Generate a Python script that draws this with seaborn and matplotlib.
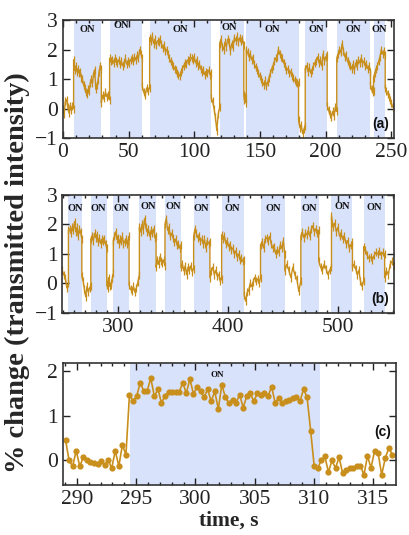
import numpy as np
import pandas as pd
import matplotlib
matplotlib.use("Agg")
import matplotlib.pyplot as plt
import seaborn as sns
from matplotlib.ticker import MultipleLocator

# --- DATA ---
# panel (a): segment edges (OFF/ON alternating, starting OFF) and values per segment
edges_a = [0, 8.1, 29.2, 35.5, 60.4, 66.0, 112.9, 119.3, 137.7, 139.6, 179.4,
           184.5, 201.2, 208.5, 234.2, 236.5, 245.4, 251]
segs_a = [
    [0.0, -0.2, 0.25, 0.3, 0.05, -0.15, 0.1, -0.05, 0.1, 0.0],
    [1.65, 1.3, 1.45, 1.25, 1.35, 1.2, 1.25, 1.05, 1.0, 0.8, 0.7, 0.55, 0.5, 0.65, 0.6,
     0.85, 1.0, 0.85, 1.2, 1.3, 0.65, 0.8, 0.95, 1.25, 1.45, 1.35],
    [0.2, 0.45, 0.35, 0.55, 0.4, 0.45, 0.3],
    [1.7, 1.6, 1.65, 1.55, 1.7, 1.6, 1.55, 1.65, 1.5, 1.6, 1.45, 1.55, 1.7, 1.5, 1.6,
     1.55, 1.65, 1.7, 1.6, 1.75, 1.65, 1.8, 1.7, 2.0, 1.85, 1.7],
    [0.75, 0.55, 0.45, 0.7, 0.6, 0.7],
    [2.4, 2.3, 2.45, 2.2, 2.35, 2.15, 2.3, 2.25, 2.35, 2.2, 2.05, 2.15, 1.95, 2.0, 1.85,
     1.7, 1.6, 1.5, 1.45, 1.35, 1.3, 1.2, 1.15, 1.1, 1.25, 1.35, 1.45, 1.55, 1.5, 1.65,
     1.6, 1.75, 1.7, 1.65, 1.75, 1.55, 1.65, 1.45, 1.5, 1.35, 1.25, 1.3, 1.15, 1.25, 1.2,
     1.3, 1.15, 1.2],
    [0.35, 0.25, 0.0, -0.3, -0.75, -0.2, 0.05],
    [2.2, 2.35, 2.1, 2.0, 2.25, 2.1, 2.35, 2.25, 1.95, 2.2, 2.1, 2.4, 2.3, 2.45, 2.25,
     2.4, 2.3, 2.35, 2.15],
    [0.45, 0.3, 0.4, 0.2, 0.35],
    [2.0, 1.9, 1.75, 1.85, 1.65, 1.7, 1.5, 1.4, 1.3, 1.2, 1.1, 1.0, 0.9, 0.8, 0.95, 0.75,
     0.9, 1.05, 1.2, 1.35, 1.45, 1.6, 1.7, 1.75, 2.0, 1.85, 1.75, 1.7, 1.55, 1.45, 1.3,
     1.35, 1.2, 1.25, 1.1, 1.05, 0.95, 0.9, 0.85, 0.9],
    [-0.4, -0.65, -0.55, -0.85, -0.7, -0.6],
    [1.35, 1.45, 1.25, 1.4, 1.2, 1.3, 1.45, 1.55, 1.6, 1.75, 1.55, 1.65, 1.45, 1.85, 1.6,
     1.75, 1.8],
    [0.1, -0.05, -0.2, -0.3, -0.1, -0.25, 0.05, -0.1],
    [1.7, 1.85, 2.0, 1.9, 2.2, 1.95, 1.75, 1.8, 1.6, 1.5, 1.45, 1.35, 1.5, 1.3, 1.55,
     1.45, 1.65, 1.55, 1.7, 1.55, 1.6, 1.45, 1.5, 1.35, 1.45, 1.25],
    [0.8, 0.65, 0.55, 0.6],
    [1.05, 1.2, 1.35, 1.45, 1.6, 1.75, 2.0, 1.85, 1.95, 1.8],
    [0.7, 0.6, 0.5, 0.4, 0.3, 0.2, 0.05],
]
on_label_a = [(18.6, 2.68), (44.4, 2.8), (89.5, 2.68), (126.3, 2.75), (159.5, 2.68),
              (192.8, 2.68), (221.3, 2.68), (241.0, 2.68)]

# panel (b)
edges_b = [249, 254.7, 266.9, 275.1, 289.6, 295.6, 309.9, 319.3, 334.5, 342.6, 357.2,
           368.7, 383.5, 394.2, 414.7, 429.6, 451.7, 466.3, 482.6, 494.2, 513.3, 523.5,
           542.6, 551]
segs_b = [
    [0.45, 0.3, 0.2, -0.15, 0.0],
    [1.8, 1.85, 1.7, 1.9, 1.8, 2.1, 1.75, 1.9, 1.6, 1.85, 1.75, 1.5],
    [0.25, 0.08, -0.2, -0.45, -0.1, -0.3, -0.15, -0.1],
    [1.5, 1.6, 1.45, 1.7, 1.55, 1.65, 1.4, 1.55, 1.35, 1.5, 1.45, 1.5, 1.35, 1.2],
    [-0.05, -0.15, 0.2, -0.1, 0.0, -0.05, 0.2, 0.35],
    [1.45, 1.6, 1.75, 1.5, 1.55, 1.35, 1.5, 1.45, 1.6, 1.35, 1.4, 1.5, 1.35, 1.45, 1.6],
    [-0.05, -0.2, -0.25, -0.1, -0.3, -0.15, 0.05, 0.3],
    [1.9, 1.75, 2.0, 1.8, 2.2, 1.9, 1.75, 1.85, 1.6, 1.8, 1.7, 1.85, 1.55, 1.6],
    [0.55, 0.8, 0.65, 0.9, 0.75, 0.7, 0.8, 0.6],
    [2.0, 2.2, 1.8, 1.9, 1.6, 1.7, 1.55, 1.4, 1.5, 1.3, 1.35, 1.2, 1.3],
    [0.55, 0.65, 0.43, 0.6, 0.3, 0.55, 0.45, 0.6, 0.4, 0.5],
    [1.6, 1.85, 1.7, 1.55, 1.6, 1.45, 1.5, 1.35, 1.5, 1.2, 1.45, 1.35, 1.4],
    [0.2, 0.43, 0.55, 0.3, 0.45, 0.25, 0.3, 0.08, 0.15],
    [1.65, 1.5, 1.6, 1.35, 1.45, 1.25, 1.3, 1.15, 1.2, 1.0, 1.1, 0.9, 1.0, 0.8, 0.85,
     0.75, 0.8],
    [-0.38, -0.6, -0.3, -0.25, 0.0, -0.1, 0.05, 0.2, 0.1, 0.15, 0.0, 0.2],
    [1.3, 1.4, 1.2, 1.5, 1.55, 1.45, 1.6, 1.35, 1.2, 1.25, 1.0, 1.15, 1.05, 1.3, 1.2,
     1.45, 1.0],
    [0.43, 0.65, 0.45, 0.2, 0.55, 0.3, 0.15, -0.27, 0.1],
    [1.6, 1.75, 1.55, 1.7, 1.65, 1.8, 1.6, 1.85, 1.95, 1.75, 1.85, 1.7, 1.8],
    [0.77, 0.55, 0.45, 0.65, 0.5, 0.3, 0.45, 0.55],
    [2.3, 1.9, 2.05, 1.75, 1.9, 1.6, 1.7, 1.5, 1.6, 1.35, 1.45, 1.2, 1.3, 1.4],
    [0.55, 0.65, 0.5, 0.3, 0.45, 0.08, -0.1, 0.1],
    [1.25, 1.15, 0.95, 0.85, 0.9, 0.8, 0.95, 1.05, 1.0, 1.1, 0.95, 1.05, 1.0],
    [0.2, 0.43, 0.3, 0.65, 0.75, 0.6],
]
on_label_b = [(261, 2.55), (282, 2.55), (303, 2.55), (327, 2.62), (350, 2.6),
              (376, 2.55), (404, 2.55), (441, 2.55), (474, 2.55), (504, 2.62), (533, 2.58)]

# panel (c): zoom of one ON period, ~0.3 s sampling
t_c_start, t_c_end = 289.05, 316.6
vals_c = [0.46, 0.0, -0.13, 0.22, -0.13, 0.07, 0.0, -0.04, -0.06, -0.07, -0.02, -0.1,
          0.0, -0.17, 0.22, -0.13, 0.35, 0.13,
          1.48, 1.34, 1.44, 1.74, 1.57, 1.57, 1.85, 1.44, 1.6, 1.3, 1.44, 1.54, 1.54,
          1.54, 1.54, 1.75, 1.51, 1.83, 1.5, 1.64, 1.55, 1.42, 1.6, 1.33, 1.55, 1.16,
          1.7, 1.42, 1.29, 1.36, 1.29, 1.48, 1.19, 1.44, 1.51, 1.33, 1.51, 1.48, 1.51,
          1.44, 1.66, 1.3, 1.4, 1.3, 1.34, 1.36, 1.4, 1.42, 1.33, 1.6, 1.42, 0.67,
          -0.13, -0.17, 0.0, 0.09, -0.26, 0.0, -0.17, 0.07, -0.28, -0.21, -0.17, -0.16,
          -0.13, -0.12, -0.32, 0.1, -0.17, 0.22, 0.16, -0.32, 0.05, 0.28, 0.13]
on_c = (294.5, 310.5)

LINE = "#c98f1c"
SHADE = "#d9e2fb"


def build_series(edges, segs):
    # spread each segment's samples across its time window
    ts, vs = [], []
    for i, seg in enumerate(segs):
        ts.extend(np.linspace(edges[i], edges[i + 1], len(seg)))
        vs.extend(seg)
    return pd.DataFrame({"t": ts, "v": vs})


def style_axis(ax):
    ax.tick_params(direction="in", top=True, right=True, which="both",
                   labelsize=15.5, width=1, colors="#222222")
    ax.tick_params(which="major", length=5)
    ax.tick_params(which="minor", length=2.5)
    for s in ax.spines.values():
        s.set_color("#333333")
        s.set_linewidth(1.2)
    for lab in ax.get_xticklabels() + ax.get_yticklabels():
        lab.set_fontfamily("Liberation Serif")


sns.set_theme(style="ticks")
plt.rcParams["font.family"] = ["Liberation Serif", "DejaVu Serif"]

fig = plt.figure(figsize=(4.09, 5.35), dpi=100)
ax_a = fig.add_axes([0.154, 0.742, 0.809, 0.2206])
ax_b = fig.add_axes([0.152, 0.415, 0.811, 0.2206])
ax_c = fig.add_axes([0.153, 0.0935, 0.815, 0.228])

for ax, edges, segs, labels, xlim, major, tag in [
        (ax_a, edges_a, segs_a, on_label_a, (0, 252), 50, "(a)"),
        (ax_b, edges_b, segs_b, on_label_b, (249, 551), 100, "(b)")]:
    df = build_series(edges, segs)
    for k in range(1, len(edges) - 1, 2):
        ax.axvspan(edges[k], edges[k + 1], color=SHADE, lw=0, zorder=0)
    sns.lineplot(data=df, x="t", y="v", ax=ax, color=LINE, lw=1.0, sort=False,
                 estimator=None, marker="|", markersize=6, markeredgewidth=0.9,
                 markeredgecolor=LINE)
    for x, y in labels:
        ax.text(x, y, "ON", ha="center", va="center", fontsize=7.5, fontweight="bold",
                family="Liberation Serif", color="#111111")
    ax.text(0.985, 0.06, tag, transform=ax.transAxes, ha="right", va="bottom",
            fontsize=10, fontweight="bold", family="Liberation Sans", color="#111111")
    ax.set_xlim(*xlim)
    ax.set_ylim(-1, 3)
    ax.xaxis.set_major_locator(MultipleLocator(major))
    ax.xaxis.set_minor_locator(MultipleLocator(10))
    ax.yaxis.set_major_locator(MultipleLocator(1))
    ax.set_xlabel("")
    ax.set_ylabel("")
    style_axis(ax)

# panel (c)
df_c = pd.DataFrame({"t": np.linspace(t_c_start, t_c_end, len(vals_c)), "v": vals_c})
ax_c.axvspan(*on_c, color=SHADE, lw=0, zorder=0)
sns.lineplot(data=df_c, x="t", y="v", ax=ax_c, color=LINE, lw=1.2, sort=False,
             estimator=None, marker="o", markersize=4.5, markeredgewidth=0)
ax_c.text(301.8, 1.93, "ON", ha="center", va="center", fontsize=6.5,
          fontweight="bold", family="Liberation Serif", color="#111111")
ax_c.text(0.985, 0.38, "(c)", transform=ax_c.transAxes, ha="right", va="bottom",
          fontsize=10, fontweight="bold", family="Liberation Sans", color="#111111")
ax_c.set_xlim(288.8, 316.9)
ax_c.set_ylim(-0.55, 2.19)
ax_c.xaxis.set_major_locator(MultipleLocator(5))
ax_c.xaxis.set_minor_locator(MultipleLocator(1))
ax_c.yaxis.set_major_locator(MultipleLocator(1))
ax_c.set_ylabel("")
ax_c.set_xlabel("time, s", fontsize=15.5, fontweight="bold", labelpad=1)
style_axis(ax_c)

fig.text(0.042, 0.49, "% change (transmitted intensity)", rotation=90, ha="center",
         va="center", fontsize=20.5, fontweight="bold")

fig.savefig("out.png", dpi=100)
